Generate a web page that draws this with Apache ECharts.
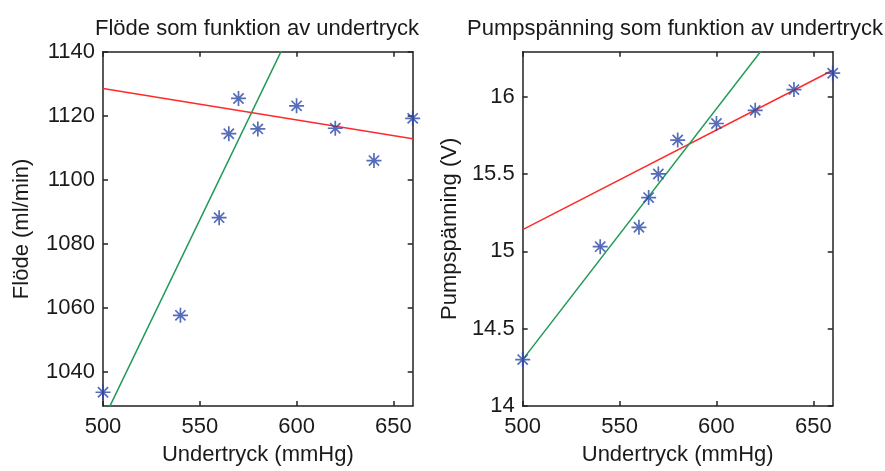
<!DOCTYPE html>
<html>
<head>
<meta charset="utf-8">
<script src="https://cdn.jsdelivr.net/npm/echarts@6/dist/echarts.min.js"></script>
<style>
  html, body { margin: 0; padding: 0; background: #fff; }
  #chart { width: 885px; height: 471px; }
</style>
</head>
<body>
<div id="chart"></div>
<script>
// Measurements: negative pressure (mmHg) against flow and pump voltage
const undertryck = [500, 540, 560, 565, 570, 580, 600, 620, 640, 660];
const flode = [1033.7, 1057.7, 1088.2, 1114.4, 1125.4, 1115.9, 1123.1, 1116.1, 1106.0, 1119.2];
const pumpspanning = [14.30, 15.03, 15.155, 15.347, 15.50, 15.719, 15.826, 15.911, 16.045, 16.151];

// Fitted lines (end points)
const flodeRedX = [500, 660];
const flodeRedY = [1128.5, 1112.8];
const flodeGreenX = [500, 600];
const flodeGreenY = [1024.9, 1150.1];
const pumpRedX = [500, 660];
const pumpRedY = [15.14, 16.17];
const pumpGreenX = [500, 640];
const pumpGreenY = [14.30, 16.57];

// Axis ticks
const xTicks = [500, 550, 600, 650];
const flodeTicks = [1040, 1060, 1080, 1100, 1120, 1140];
const pumpTicks = [14, 14.5, 15, 15.5, 16];

const FONT = '"Liberation Sans", Arial, sans-serif';
const TXT = '#1a1a1a';
const AX = '#222';
const STAR = 'path://M0,-1L0,1M-1,0L1,0M-0.68,-0.68L0.68,0.68M-0.68,0.68L0.68,-0.68';

const zip = (xs, ys) => xs.map((x, i) => [x, ys[i]]);

function xAxisPair(grid) {
  const base = {
    gridIndex: grid, type: 'value', min: 500, max: 660,
    splitLine: { show: false },
    axisLine: { show: true, onZero: false, lineStyle: { color: AX, width: 1.5 } },
    axisTick: { show: true, inside: true, length: 5, customValues: xTicks, lineStyle: { color: AX, width: 1.5 } }
  };
  return [
    Object.assign({}, base, {
      position: 'bottom',
      name: 'Undertryck (mmHg)', nameLocation: 'middle', nameGap: 38,
      nameTextStyle: { fontFamily: FONT, fontSize: 22, color: TXT },
      axisLabel: { customValues: xTicks, margin: 10, fontFamily: FONT, fontSize: 22, color: TXT }
    }),
    Object.assign({}, base, { position: 'top', axisLabel: { show: false } })
  ];
}

function yAxisPair(grid, min, max, ticks, name, gap, fmt) {
  const base = {
    gridIndex: grid, type: 'value', min: min, max: max,
    splitLine: { show: false },
    axisLine: { show: true, onZero: false, lineStyle: { color: AX, width: 1.5 } },
    axisTick: { show: true, inside: true, length: 5, customValues: ticks, lineStyle: { color: AX, width: 1.5 } }
  };
  return [
    Object.assign({}, base, {
      position: 'left',
      name: name, nameLocation: 'middle', nameGap: gap, nameRotate: 90,
      nameTextStyle: { fontFamily: FONT, fontSize: 22, color: TXT },
      axisLabel: { customValues: ticks, margin: 8, fontFamily: FONT, fontSize: 22, color: TXT, formatter: fmt }
    }),
    Object.assign({}, base, { position: 'right', axisLabel: { show: false } })
  ];
}

const chart = echarts.init(document.getElementById('chart'), null, { renderer: 'canvas' });

chart.setOption({
  backgroundColor: '#fff',
  animation: false,
  title: [
    { text: 'Flöde som funktion av undertryck', left: 252, top: 13, textAlign: 'center',
      textStyle: { fontFamily: FONT, fontSize: 22, fontWeight: 'normal', color: TXT } },
    { text: 'Pumpspänning som funktion av undertryck', left: 670, top: 13, textAlign: 'center',
      textStyle: { fontFamily: FONT, fontSize: 22, fontWeight: 'normal', color: TXT } }
  ],
  grid: [
    { left: 103, right: 472.3, top: 51.7, bottom: 60 },
    { left: 522.7, right: 52.3, top: 51.7, bottom: 60 }
  ],
  xAxis: [...xAxisPair(0), ...xAxisPair(1)],
  yAxis: [
    ...yAxisPair(0, 1029.4, 1140, flodeTicks, 'Flöde (ml/min)', 70, v => String(v)),
    ...yAxisPair(1, 14, 16.29, pumpTicks, 'Pumpspänning (V)', 62, v => String(v))
  ],
  series: [
    { type: 'line', xAxisIndex: 0, yAxisIndex: 0, data: zip(flodeRedX, flodeRedY),
      symbol: 'none', lineStyle: { color: '#ff2a2a', width: 1.5 }, clip: true, z: 2 },
    { type: 'line', xAxisIndex: 0, yAxisIndex: 0, data: zip(flodeGreenX, flodeGreenY),
      symbol: 'none', lineStyle: { color: '#1f9a55', width: 1.5 }, clip: true, z: 2 },
    { type: 'scatter', xAxisIndex: 0, yAxisIndex: 0, data: zip(undertryck, flode),
      symbol: STAR, symbolSize: 15, clip: false, z: 3,
      itemStyle: { color: '#2b47a6', borderColor: '#2b47a6', borderWidth: 1.7 } },

    { type: 'line', xAxisIndex: 2, yAxisIndex: 2, data: zip(pumpRedX, pumpRedY),
      symbol: 'none', lineStyle: { color: '#ff2a2a', width: 1.5 }, clip: true, z: 2 },
    { type: 'line', xAxisIndex: 2, yAxisIndex: 2, data: zip(pumpGreenX, pumpGreenY),
      symbol: 'none', lineStyle: { color: '#1f9a55', width: 1.5 }, clip: true, z: 2 },
    { type: 'scatter', xAxisIndex: 2, yAxisIndex: 2, data: zip(undertryck, pumpspanning),
      symbol: STAR, symbolSize: 15, clip: false, z: 3,
      itemStyle: { color: '#2b47a6', borderColor: '#2b47a6', borderWidth: 1.7 } }
  ]
});
</script>
</body>
</html>
